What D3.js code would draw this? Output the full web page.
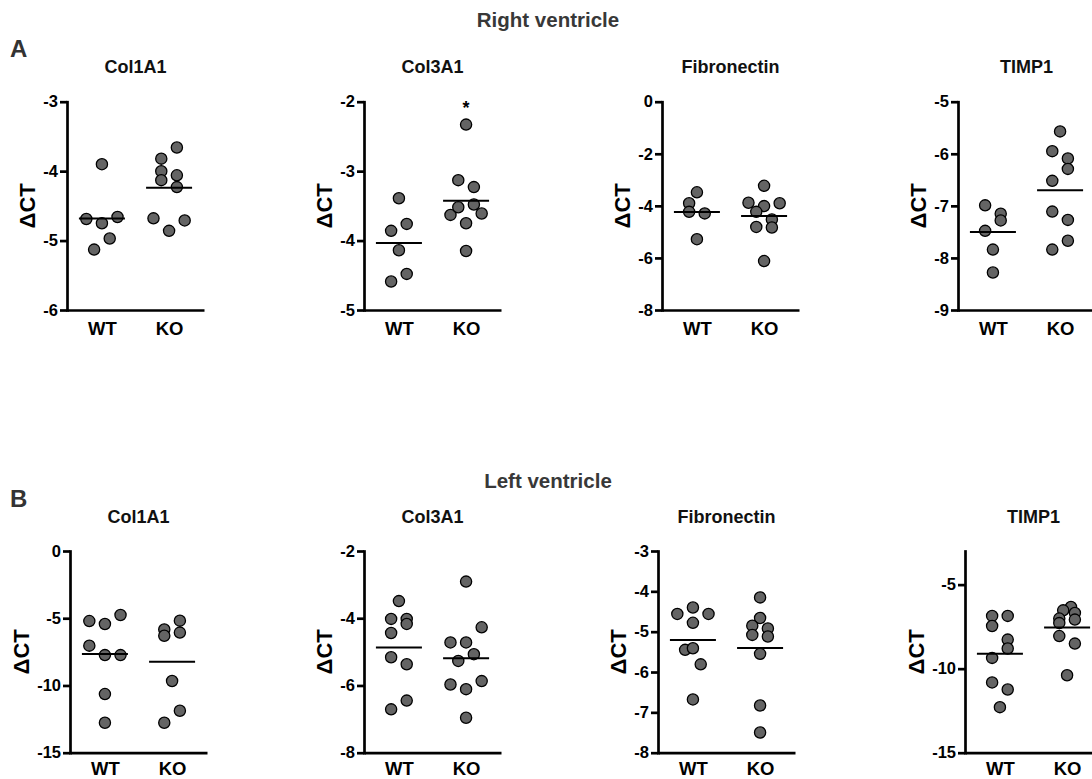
<!DOCTYPE html>
<html>
<head>
<meta charset="utf-8">
<script src="https://cdn.jsdelivr.net/npm/d3@7"></script>
<style>
  body { margin: 0; background: #fff; }
  svg { font-family: "Liberation Sans", Arial, sans-serif; font-weight: bold; }
  .axis path.domain, .axis .tick line { stroke: #000; stroke-width: 2.7px; }
  .axis .tick text { font-family: "Liberation Sans", Arial, sans-serif; font-weight: bold; fill: #000; }
  .y.axis .tick text { font-size: 16.5px; }
  .x.axis .tick text { font-size: 18.5px; }
  .x.axis .tick line { display: none; }
</style>
</head>
<body>
<div id="chart"></div>
<script>
// Dot plots of delta CT, WT vs KO, right and left ventricle

var genes = [ "Col1A1", "Col3A1", "Fibronectin", "TIMP1" ];
var groups = [ "WT", "KO" ];

// right ventricle
var rvDomains = [ [ -6, -3 ], [ -5, -2 ], [ -8, 0 ], [ -9, -5 ] ];
var rvTicks = [ [ -6, -5, -4, -3 ], [ -5, -4, -3, -2 ], [ -8, -6, -4, -2, 0 ], [ -9, -8, -7, -6, -5 ] ];
var rvWT = [
    [ -3.90, -4.69, -4.75, -4.66, -5.13, -4.97 ],
    [ -3.39, -3.86, -3.76, -4.14, -4.48, -4.59 ],
    [ -3.48, -3.90, -4.23, -4.29, -5.28 ],
    [ -6.99, -7.15, -7.28, -7.48, -7.84, -8.28 ]
];
var rvKO = [
    [ -3.66, -3.82, -4.00, -4.06, -4.13, -4.23, -4.68, -4.86, -4.71 ],
    [ -2.33, -3.13, -3.23, -3.63, -3.52, -3.48, -3.75, -3.61, -4.15 ],
    [ -3.23, -3.88, -4.01, -3.90, -4.23, -4.52, -4.81, -4.83, -6.12 ],
    [ -5.57, -5.95, -6.09, -6.29, -6.52, -7.11, -7.27, -7.67, -7.84 ]
];
// column slot of each dot inside its group (scatter spread)
var rvWTSlot = [
    [ 0, -2, 0, 2, -1, 1 ],
    [ 0, -1, 1, 0, 1, -1 ],
    [ 0, -1, -1, 1, 0 ],
    [ -1, 1, 1, -1, 0, 0 ]
];
var rvKOSlot = [
    [ 1, -1, -1, 1, -1, 1, -2, 0, 2 ],
    [ 0, -1, 1, -2, -1, 1, 0, 2, 0 ],
    [ 0, -2, 0, 2, -1, 1, -1, 1, 0 ],
    [ 0, -1, 1, 1, -1, -1, 1, 1, -1 ]
];
var rvStars = [ "", "*", "", "" ];

// left ventricle
var lvDomains = [ [ -15, 0 ], [ -8, -2 ], [ -8, -3 ], [ -15, -3 ] ];
var lvTicks = [ [ -15, -10, -5, 0 ], [ -8, -6, -4, -2 ], [ -8, -7, -6, -5, -4, -3 ], [ -15, -10, -5 ] ];
var lvWT = [
    [ -5.21, -5.43, -4.76, -7.04, -7.74, -7.74, -10.64, -12.77 ],
    [ -3.49, -4.02, -4.02, -4.17, -4.44, -5.16, -5.37, -6.45, -6.71 ],
    [ -4.40, -4.56, -4.56, -4.78, -5.45, -5.41, -5.81, -6.68 ],
    [ -6.86, -6.86, -7.46, -8.27, -8.80, -9.36, -10.82, -11.24, -12.29 ]
];
var lvKO = [
    [ -5.18, -5.83, -6.07, -6.30, -9.67, -11.88, -12.77 ],
    [ -2.91, -4.27, -4.72, -4.72, -5.07, -5.27, -5.97, -6.11, -5.87, -6.96 ],
    [ -4.15, -4.66, -4.85, -4.92, -5.08, -5.12, -5.55, -6.83, -7.50 ],
    [ -6.33, -6.53, -6.69, -7.02, -7.29, -7.08, -8.06, -8.51, -10.39 ]
];
var lvWTSlot = [
    [ -2, 0, 2, -2, 0, 2, 0, 0 ],
    [ 0, -1, 1, 1, -1, -1, 1, 1, -1 ],
    [ 0, -2, 2, 0, -1, 0, 1, 0 ],
    [ -1, 1, -1, 1, 1, -1, -1, 1, 0 ]
];
var lvKOSlot = [
    [ 1, -1, 1, -1, 0, 1, -1 ],
    [ 0, 2, -2, 0, 1, -1, -2, 0, 2, 0 ],
    [ 0, 0, -1, 1, -1, 1, 0, 0, 0 ],
    [ 0.5, -0.5, 1, -1, -1, 1, -1, 1, 0 ]
];
var lvStars = [ "", "", "", "" ];

// layout
var rows = [
    { letter: "A", heading: "Right ventricle", letterY: 57, headingY: 27, titleY: 73, xPad: 12,
      top: 101.7, bottom: 310, axisX: [ 67, 364, 662, 958 ],
      domains: rvDomains, ticks: rvTicks, wt: rvWT, ko: rvKO, wtSlot: rvWTSlot, koSlot: rvKOSlot, stars: rvStars },
    { letter: "B", heading: "Left ventricle", letterY: 507, headingY: 488, titleY: 523, xPad: 9,
      top: 551, bottom: 752.7, axisX: [ 70, 364, 658, 965 ],
      domains: lvDomains, ticks: lvTicks, wt: lvWT, ko: lvKO, wtSlot: lvWTSlot, koSlot: lvKOSlot, stars: lvStars }
];
var axisWidth = 137;

var svg = d3.select( "#chart" ).append( "svg" )
    .attr( "width", 1092 )
    .attr( "height", 779 );

var slot = d3.scaleLinear().domain( [ -2, 2 ] ).range( [ -15.6, 15.6 ] );

rows.forEach( function( row ) {
    // panel letter and heading
    svg.append( "text" )
        .attr( "x", 10 ).attr( "y", row.letterY )
        .style( "font-size", "24px" ).style( "fill", "#333" )
        .text( row.letter );
    svg.append( "text" )
        .attr( "x", 548 ).attr( "y", row.headingY )
        .attr( "text-anchor", "middle" )
        .style( "font-size", "20.5px" ).style( "fill", "#383838" )
        .text( row.heading );

    genes.forEach( function( gene, i ) {
        var g = svg.append( "g" )
            .attr( "transform", "translate(" + row.axisX[ i ] + ",0)" );

        var x = d3.scalePoint().domain( groups ).range( [ 0, axisWidth ] ).padding( 0.52 );
        var y = d3.scaleLinear().domain( row.domains[ i ] ).range( [ row.bottom, row.top ] );

        // title
        g.append( "text" )
            .attr( "x", axisWidth / 2 ).attr( "y", row.titleY )
            .attr( "text-anchor", "middle" )
            .style( "font-size", "18px" ).style( "fill", "#111" )
            .text( gene );

        // x axis
        g.append( "g" )
            .attr( "class", "x axis" )
            .attr( "transform", "translate(0," + row.bottom + ")" )
            .call( d3.axisBottom( x ).tickSize( 0 ).tickSizeOuter( 0 ).tickPadding( row.xPad ) );

        // y axis
        var ya = g.append( "g" )
            .attr( "class", "y axis" )
            .call( d3.axisLeft( y ).tickValues( row.ticks[ i ] ).tickSize( 7 ).tickSizeOuter( 0 ).tickPadding( 2 )
                .tickFormat( function( d ) { return String( d ); } ) );
        ya.select( ".domain" ).attr( "stroke-linecap", "square" );

        // y label
        var lx = ya.node().getBBox().x - 16;
        g.append( "text" )
            .attr( "transform", "translate(" + lx + "," + ( ( row.top + row.bottom ) / 2 ) + ") rotate(-90)" )
            .attr( "text-anchor", "middle" )
            .attr( "dy", "0.36em" )
            .style( "font-size", "22px" ).style( "fill", "#000" )
            .text( "\u0394CT" );

        // dots and mean lines
        var sets = [ { key: "WT", v: row.wt[ i ], s: row.wtSlot[ i ] },
                     { key: "KO", v: row.ko[ i ], s: row.koSlot[ i ] } ];
        sets.forEach( function( set ) {
            var data = set.v.map( function( d, j ) { return { val: d, slot: set.s[ j ] }; } );
            var cx = x( set.key );

            g.selectAll( null )
                .data( data )
                .enter().append( "circle" )
                .attr( "cx", function( d ) { return cx + slot( d.slot ); } )
                .attr( "cy", function( d ) { return y( d.val ); } )
                .attr( "r", 5.6 )
                .attr( "fill", "#646464" )
                .attr( "stroke", "#000" )
                .attr( "stroke-width", 1.3 );

            var m = d3.mean( set.v );
            g.append( "line" )
                .attr( "x1", cx - 23 ).attr( "x2", cx + 23 )
                .attr( "y1", y( m ) ).attr( "y2", y( m ) )
                .attr( "stroke", "#000" )
                .attr( "stroke-width", 2 );
        });

        // significance mark
        if( row.stars[ i ] ) {
            g.append( "text" )
                .attr( "x", x( "KO" ) ).attr( "y", row.top + 12 )
                .attr( "text-anchor", "middle" )
                .style( "font-size", "18px" ).style( "fill", "#000" )
                .text( row.stars[ i ] );
        }
    });
});
</script>
</body>
</html>
